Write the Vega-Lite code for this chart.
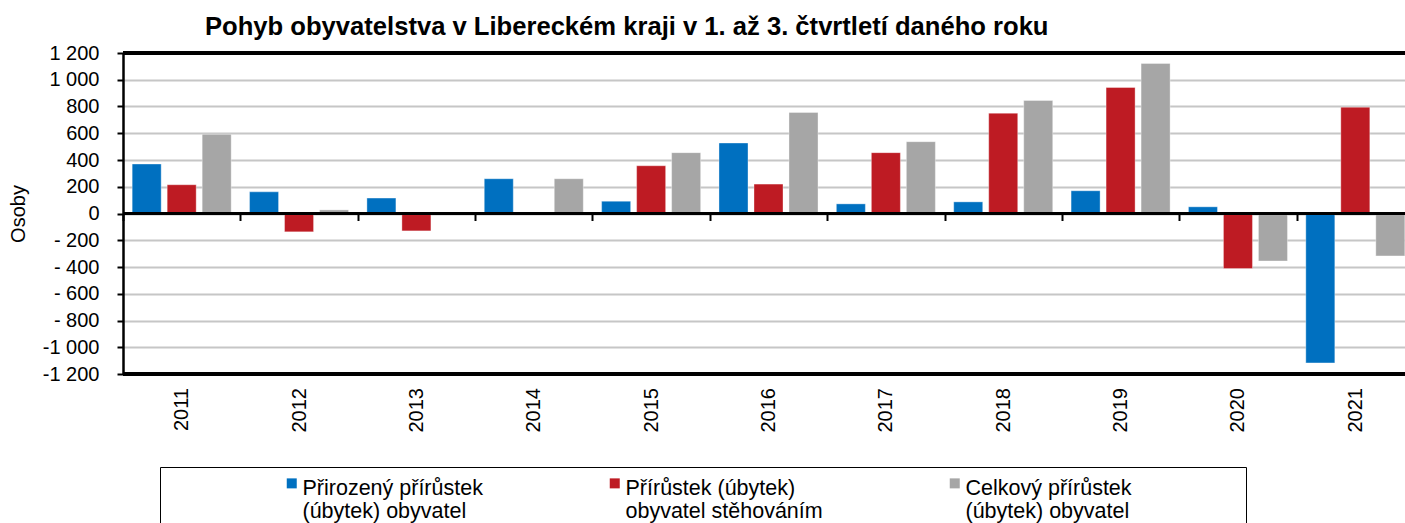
{
  "$schema": "https://vega.github.io/schema/vega-lite/v6.json",
  "width": 1282,
  "height": 321,
  "autosize": {"type": "none"},
  "padding": {"left": 123, "top": 53, "right": 0, "bottom": 149},
  "background": "white",
  "config": {
    "font": "Liberation Sans",
    "view": {"stroke": null},
    "axis": {"labelFont": "Liberation Sans", "titleFont": "Liberation Sans", "labelColor": "black", "titleColor": "black"}
  },
  "title": {
    "text": "Pohyb obyvatelstva v Libereckém kraji v 1. až 3. čtvrtletí daného roku",
    "anchor": "start",
    "frame": "group",
    "dx": 82,
    "offset": -18,
    "baseline": "alphabetic",
    "fontSize": 25.6,
    "fontWeight": "bold",
    "font": "Liberation Sans",
    "color": "black"
  },
  "data": {
    "values": [
      {"rok": "2011", "ukazatel": "Přirozený přírůstek (úbytek) obyvatel", "hodnota": 370},
      {"rok": "2011", "ukazatel": "Přírůstek (úbytek) obyvatel stěhováním", "hodnota": 215},
      {"rok": "2011", "ukazatel": "Celkový přírůstek (úbytek) obyvatel", "hodnota": 592},
      {"rok": "2012", "ukazatel": "Přirozený přírůstek (úbytek) obyvatel", "hodnota": 162},
      {"rok": "2012", "ukazatel": "Přírůstek (úbytek) obyvatel stěhováním", "hodnota": -137},
      {"rok": "2012", "ukazatel": "Celkový přírůstek (úbytek) obyvatel", "hodnota": 27},
      {"rok": "2013", "ukazatel": "Přirozený přírůstek (úbytek) obyvatel", "hodnota": 115},
      {"rok": "2013", "ukazatel": "Přírůstek (úbytek) obyvatel stěhováním", "hodnota": -130},
      {"rok": "2013", "ukazatel": "Celkový přírůstek (úbytek) obyvatel", "hodnota": -5},
      {"rok": "2014", "ukazatel": "Přirozený přírůstek (úbytek) obyvatel", "hodnota": 260},
      {"rok": "2014", "ukazatel": "Přírůstek (úbytek) obyvatel stěhováním", "hodnota": 2},
      {"rok": "2014", "ukazatel": "Celkový přírůstek (úbytek) obyvatel", "hodnota": 260},
      {"rok": "2015", "ukazatel": "Přirozený přírůstek (úbytek) obyvatel", "hodnota": 92},
      {"rok": "2015", "ukazatel": "Přírůstek (úbytek) obyvatel stěhováním", "hodnota": 357},
      {"rok": "2015", "ukazatel": "Celkový přírůstek (úbytek) obyvatel", "hodnota": 455},
      {"rok": "2016", "ukazatel": "Přirozený přírůstek (úbytek) obyvatel", "hodnota": 527},
      {"rok": "2016", "ukazatel": "Přírůstek (úbytek) obyvatel stěhováním", "hodnota": 220},
      {"rok": "2016", "ukazatel": "Celkový přírůstek (úbytek) obyvatel", "hodnota": 755},
      {"rok": "2017", "ukazatel": "Přirozený přírůstek (úbytek) obyvatel", "hodnota": 72},
      {"rok": "2017", "ukazatel": "Přírůstek (úbytek) obyvatel stěhováním", "hodnota": 455},
      {"rok": "2017", "ukazatel": "Celkový přírůstek (úbytek) obyvatel", "hodnota": 537},
      {"rok": "2018", "ukazatel": "Přirozený přírůstek (úbytek) obyvatel", "hodnota": 87},
      {"rok": "2018", "ukazatel": "Přírůstek (úbytek) obyvatel stěhováním", "hodnota": 750},
      {"rok": "2018", "ukazatel": "Celkový přírůstek (úbytek) obyvatel", "hodnota": 845},
      {"rok": "2019", "ukazatel": "Přirozený přírůstek (úbytek) obyvatel", "hodnota": 170},
      {"rok": "2019", "ukazatel": "Přírůstek (úbytek) obyvatel stěhováním", "hodnota": 942},
      {"rok": "2019", "ukazatel": "Celkový přírůstek (úbytek) obyvatel", "hodnota": 1122},
      {"rok": "2020", "ukazatel": "Přirozený přírůstek (úbytek) obyvatel", "hodnota": 50},
      {"rok": "2020", "ukazatel": "Přírůstek (úbytek) obyvatel stěhováním", "hodnota": -412},
      {"rok": "2020", "ukazatel": "Celkový přírůstek (úbytek) obyvatel", "hodnota": -355},
      {"rok": "2021", "ukazatel": "Přirozený přírůstek (úbytek) obyvatel", "hodnota": -1117},
      {"rok": "2021", "ukazatel": "Přírůstek (úbytek) obyvatel stěhováním", "hodnota": 795},
      {"rok": "2021", "ukazatel": "Celkový přírůstek (úbytek) obyvatel", "hodnota": -317}
    ]
  },
  "layer": [
    {
      "mark": {"type": "bar", "stroke": "white", "strokeWidth": 0.6, "strokeOpacity": 0.6},
      "encoding": {
        "x": {
          "field": "rok",
          "type": "nominal",
          "scale": {"range": [0, 1291], "paddingInner": 0, "paddingOuter": 0},
          "axis": {
            "title": null,
            "orient": "bottom",
            "offset": -160.5,
            "domain": false,
            "ticks": true,
            "tickBand": "extent",
            "tickSize": 7,
            "tickWidth": 2,
            "tickColor": "black",
            "labelAngle": 270,
            "labelPadding": 167,
            "labelFontSize": 20,
            "labelColor": "black",
            "grid": false
          }
        },
        "xOffset": {
          "field": "ukazatel",
          "type": "nominal",
          "scale": {
            "domain": ["Přirozený přírůstek (úbytek) obyvatel", "Přírůstek (úbytek) obyvatel stěhováním", "Celkový přírůstek (úbytek) obyvatel"],
            "paddingInner": 0.171,
            "paddingOuter": 0.262
          }
        },
        "y": {
          "field": "hodnota",
          "type": "quantitative",
          "scale": {"domain": [-1200, 1200], "nice": false, "zero": false},
          "axis": {
            "title": "Osoby",
            "titleFontSize": 20,
            "titleFontWeight": "normal",
            "titleAngle": 270,
            "titleX": -105,
            "titleY": 160.5,
            "titleAlign": "center",
            "titleBaseline": "middle",
            "values": [-1200, -1000, -800, -600, -400, -200, 0, 200, 400, 600, 800, 1000, 1200],
            "tickCount": 13,
            "labelExpr": "datum.value <= -1000 ? '-' + replace(format(-datum.value, ','), ',', ' ') : (datum.value < 0 ? '- ' + format(-datum.value, 'd') : replace(format(datum.value, ','), ',', ' '))",
            "labelFontSize": 20,
            "labelPadding": 18,
            "labelOverlap": false,
            "tickSize": 6,
            "tickWidth": 2,
            "tickColor": "black",
            "domain": true,
            "domainColor": "black",
            "domainWidth": 2.5,
            "grid": true,
            "gridColor": "#C6C6C6",
            "gridWidth": 2
          }
        },
        "color": {
          "field": "ukazatel",
          "type": "nominal",
          "scale": {
            "domain": ["Přirozený přírůstek (úbytek) obyvatel", "Přírůstek (úbytek) obyvatel stěhováním", "Celkový přírůstek (úbytek) obyvatel"],
            "range": ["#0070C0", "#BE1B23", "#A6A6A6"]
          },
          "legend": {
            "title": " ",
            "titleOrient": "left",
            "titleFontSize": 20,
            "titlePadding": 121,
            "orient": "none",
            "legendX": 37,
            "legendY": 414,
            "direction": "horizontal",
            "columns": 3,
            "columnPadding": 121,
            "padding": 0,
            "strokeColor": "black",
            "symbolType": "M-1,0.1H1V2.1H-1Z",
            "symbolSize": 100,
            "symbolStrokeWidth": 0,
            "labelFontSize": 21.5,
            "labelColor": "black",
            "labelBaseline": "top",
            "labelOffset": 0,
            "labelLimit": 600,
            "labelExpr": "datum.label == 'Přirozený přírůstek (úbytek) obyvatel' ? ['Přirozený přírůstek', '(úbytek) obyvatel'] : (datum.label == 'Přírůstek (úbytek) obyvatel stěhováním' ? ['Přírůstek (úbytek)', 'obyvatel stěhováním'] : [pad('Celkový přírůstek', 36, '\u00a0') + '\u200b', '(úbytek) obyvatel'])",
            "encode": {
              "labels": {"update": {"lineHeight": {"value": 24}, "dy": {"value": -6}}},
              "legend": {"update": {"strokeWidth": {"value": 1.5}}}
            }
          }
        }
      }
    },
    {
      "mark": {"type": "rule", "color": "black", "strokeWidth": 2.5},
      "encoding": {"y": {"datum": 0}}
    },
    {
      "mark": {"type": "rule", "color": "black", "strokeWidth": 2.5},
      "encoding": {"y": {"datum": 1200}}
    },
    {
      "mark": {"type": "rule", "color": "black", "strokeWidth": 2.5},
      "encoding": {"y": {"datum": -1200}}
    }
  ]
}
